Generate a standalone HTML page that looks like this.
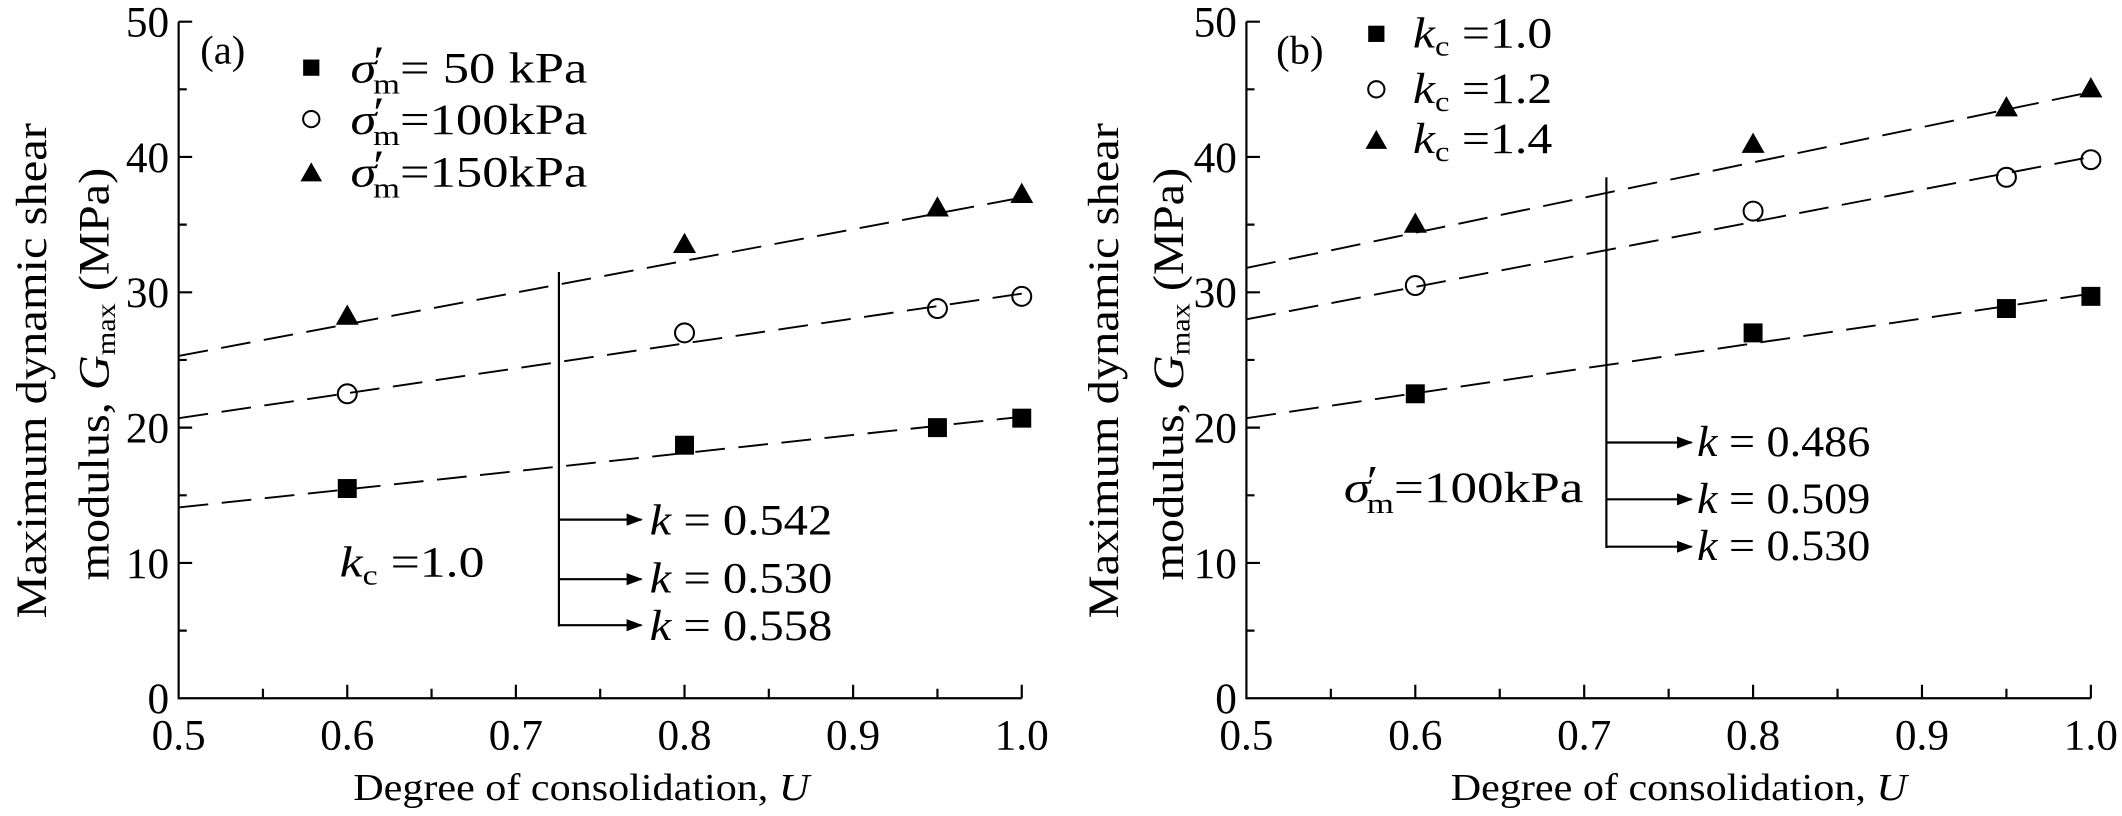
<!DOCTYPE html>
<html><head><meta charset="utf-8"><style>
html,body{margin:0;padding:0;background:#fff;}
svg{display:block;}
text{font-family:"Liberation Serif",serif;fill:#000;}
.it{font-style:italic;}
</style></head><body>
<svg width="2122" height="816" viewBox="0 0 1568 603" preserveAspectRatio="none" xmlns="http://www.w3.org/2000/svg">
<defs>
<marker id="ah" markerWidth="12" markerHeight="9" refX="11" refY="4.5" orient="auto" markerUnits="userSpaceOnUse"><path d="M0,0 L12,4.5 L0,9 Z" fill="#000"/></marker>
</defs>
<!-- Panel A -->
<g stroke="#000" stroke-width="1.6" fill="none">
<path d="M132,16 V516 H755"/>
<path d="M132,16h10 M132,66h6 M132,116h10 M132,166h6 M132,216h10 M132,266h6 M132,316h10 M132,366h6 M132,416h10 M132,466h6"/>
<path d="M194.3,516v-7 M256.6,516v-10 M318.9,516v-7 M381.2,516v-10 M443.5,516v-7 M505.8,516v-10 M568.1,516v-7 M630.4,516v-10 M692.7,516v-7 M755,516v-10"/>
</g>
<g stroke="#000" stroke-width="1.4" stroke-dasharray="22,10" fill="none">
<line x1="132" y1="375" x2="755" y2="308"/>
<line x1="132" y1="309" x2="755" y2="217"/>
<line x1="132" y1="263" x2="755" y2="146"/>
</g>
<g stroke="#000" stroke-width="1.6" fill="none">
<line x1="413" y1="201" x2="413" y2="463"/>
<line x1="413" y1="384" x2="474" y2="384" marker-end="url(#ah)"/>
<line x1="413" y1="428" x2="474" y2="428" marker-end="url(#ah)"/>
<line x1="413" y1="462" x2="474" y2="462" marker-end="url(#ah)"/>
</g>
<g fill="#000">
<rect x="249.6" y="354" width="14" height="14"/><rect x="498.8" y="322" width="14" height="14"/><rect x="685.7" y="309" width="14" height="14"/><rect x="748" y="302" width="14" height="14"/>
<path d="M256.6,225 l8.5,15 h-17z M505.8,172 l8.5,15 h-17z M692.7,145 l8.5,15 h-17z M755,135 l8.5,15 h-17z"/>
<rect x="224" y="44" width="12" height="12"/>
<path d="M230,120 l8,14 h-16z"/>
</g>
<g fill="none" stroke="#000" stroke-width="1.5">
<circle cx="256.6" cy="291" r="7"/><circle cx="505.8" cy="246" r="7"/><circle cx="692.7" cy="228" r="7"/><circle cx="755" cy="219" r="7"/>
<circle cx="230" cy="88" r="6"/>
</g>
<g font-size="32" text-anchor="end">
<text x="125" y="527">0</text><text x="125" y="427">10</text><text x="125" y="327">20</text><text x="125" y="227">30</text><text x="125" y="127">40</text><text x="125" y="27">50</text>
</g>
<g font-size="32" text-anchor="middle">
<text x="132" y="554">0.5</text><text x="256.6" y="554">0.6</text><text x="381.2" y="554">0.7</text><text x="505.8" y="554">0.8</text><text x="630.4" y="554">0.9</text><text x="755" y="554">1.0</text>
</g>
<text x="261" y="591" font-size="28" textLength="337" lengthAdjust="spacingAndGlyphs">Degree of consolidation, <tspan class="it">U</tspan></text>
<text font-size="32" transform="translate(34,457) rotate(-90)" textLength="366" lengthAdjust="spacingAndGlyphs">Maximum dynamic shear</text>
<text font-size="32" transform="translate(80,429) rotate(-90)" textLength="305" lengthAdjust="spacingAndGlyphs">modulus, <tspan class="it">G</tspan><tspan font-size="20" dy="5">max</tspan><tspan dy="-5"> (MPa)</tspan></text>
<text x="148" y="47" font-size="30">(a)</text>
<g font-size="32">
<text x="259" y="61" textLength="175" lengthAdjust="spacingAndGlyphs"><tspan class="it">σ</tspan><tspan dx="-2" dy="-5">′</tspan><tspan font-size="21" dx="-7" dy="13">m</tspan><tspan dy="-8">=  50 kPa</tspan></text>
<text x="259" y="99" textLength="175" lengthAdjust="spacingAndGlyphs"><tspan class="it">σ</tspan><tspan dx="-2" dy="-5">′</tspan><tspan font-size="21" dx="-7" dy="13">m</tspan><tspan dy="-8">=100kPa</tspan></text>
<text x="259" y="138" textLength="175" lengthAdjust="spacingAndGlyphs"><tspan class="it">σ</tspan><tspan dx="-2" dy="-5">′</tspan><tspan font-size="21" dx="-7" dy="13">m</tspan><tspan dy="-8">=150kPa</tspan></text>
<text x="251" y="426" textLength="107" lengthAdjust="spacingAndGlyphs"><tspan class="it">k</tspan><tspan font-size="21" dy="6">c</tspan><tspan dy="-6"> =1.0</tspan></text>
<text x="480" y="395" textLength="135" lengthAdjust="spacingAndGlyphs"><tspan class="it">k</tspan> = 0.542</text>
<text x="480" y="438" textLength="135" lengthAdjust="spacingAndGlyphs"><tspan class="it">k</tspan> = 0.530</text>
<text x="480" y="473" textLength="135" lengthAdjust="spacingAndGlyphs"><tspan class="it">k</tspan> = 0.558</text>
</g>

<!-- Panel B -->
<g stroke="#000" stroke-width="1.6" fill="none">
<path d="M921,16 V516 H1545"/>
<path d="M921,16h10 M921,66h6 M921,116h10 M921,166h6 M921,216h10 M921,266h6 M921,316h10 M921,366h6 M921,416h10 M921,466h6"/>
<path d="M983.4,516v-7 M1045.8,516v-10 M1108.2,516v-7 M1170.6,516v-10 M1233,516v-7 M1295.4,516v-10 M1357.8,516v-7 M1420.2,516v-10 M1482.6,516v-7 M1545,516v-10"/>
</g>
<g stroke="#000" stroke-width="1.4" stroke-dasharray="22,10" fill="none">
<line x1="921" y1="309" x2="1545" y2="217"/>
<line x1="921" y1="236" x2="1545" y2="116"/>
<line x1="921" y1="198" x2="1545" y2="68"/>
</g>
<g stroke="#000" stroke-width="1.6" fill="none">
<line x1="1187" y1="131" x2="1187" y2="405"/>
<line x1="1187" y1="327" x2="1250" y2="327" marker-end="url(#ah)"/>
<line x1="1187" y1="369" x2="1250" y2="369" marker-end="url(#ah)"/>
<line x1="1187" y1="404" x2="1250" y2="404" marker-end="url(#ah)"/>
</g>
<g fill="#000">
<rect x="1038.8" y="284" width="14" height="14"/><rect x="1288.4" y="239" width="14" height="14"/><rect x="1475.6" y="221" width="14" height="14"/><rect x="1538" y="212" width="14" height="14"/>
<path d="M1045.8,157 l8.5,15 h-17z M1295.4,98 l8.5,15 h-17z M1482.6,71 l8.5,15 h-17z M1545,57 l8.5,15 h-17z"/>
<rect x="1011" y="19" width="12" height="12"/>
<path d="M1017,96 l8,14 h-16z"/>
</g>
<g fill="none" stroke="#000" stroke-width="1.5">
<circle cx="1045.8" cy="211" r="7"/><circle cx="1295.4" cy="156" r="7"/><circle cx="1482.6" cy="131" r="7"/><circle cx="1545" cy="118" r="7"/>
<circle cx="1017" cy="66" r="6"/>
</g>
<g font-size="32" text-anchor="end">
<text x="914" y="527">0</text><text x="914" y="427">10</text><text x="914" y="327">20</text><text x="914" y="227">30</text><text x="914" y="127">40</text><text x="914" y="27">50</text>
</g>
<g font-size="32" text-anchor="middle">
<text x="921" y="554">0.5</text><text x="1045.8" y="554">0.6</text><text x="1170.6" y="554">0.7</text><text x="1295.4" y="554">0.8</text><text x="1420.2" y="554">0.9</text><text x="1545" y="554">1.0</text>
</g>
<text x="1072" y="591" font-size="28" textLength="337" lengthAdjust="spacingAndGlyphs">Degree of consolidation, <tspan class="it">U</tspan></text>
<text font-size="32" transform="translate(826,457) rotate(-90)" textLength="366" lengthAdjust="spacingAndGlyphs">Maximum dynamic shear</text>
<text font-size="32" transform="translate(874,429) rotate(-90)" textLength="305" lengthAdjust="spacingAndGlyphs">modulus, <tspan class="it">G</tspan><tspan font-size="20" dy="5">max</tspan><tspan dy="-5"> (MPa)</tspan></text>
<text x="943" y="47" font-size="30">(b)</text>
<g font-size="32">
<text x="1044" y="35" textLength="103" lengthAdjust="spacingAndGlyphs"><tspan class="it">k</tspan><tspan font-size="21" dy="6">c</tspan><tspan dy="-6"> =1.0</tspan></text>
<text x="1044" y="76" textLength="103" lengthAdjust="spacingAndGlyphs"><tspan class="it">k</tspan><tspan font-size="21" dy="6">c</tspan><tspan dy="-6"> =1.2</tspan></text>
<text x="1044" y="113" textLength="103" lengthAdjust="spacingAndGlyphs"><tspan class="it">k</tspan><tspan font-size="21" dy="6">c</tspan><tspan dy="-6"> =1.4</tspan></text>
<text x="993" y="371" textLength="177" lengthAdjust="spacingAndGlyphs"><tspan class="it">σ</tspan><tspan dx="-2" dy="-5">′</tspan><tspan font-size="21" dx="-7" dy="13">m</tspan><tspan dy="-8">=100kPa</tspan></text>
<text x="1254" y="337" textLength="128" lengthAdjust="spacingAndGlyphs"><tspan class="it">k</tspan> = 0.486</text>
<text x="1254" y="379" textLength="128" lengthAdjust="spacingAndGlyphs"><tspan class="it">k</tspan> = 0.509</text>
<text x="1254" y="414" textLength="128" lengthAdjust="spacingAndGlyphs"><tspan class="it">k</tspan> = 0.530</text>
</g>
</svg>
</body></html>
